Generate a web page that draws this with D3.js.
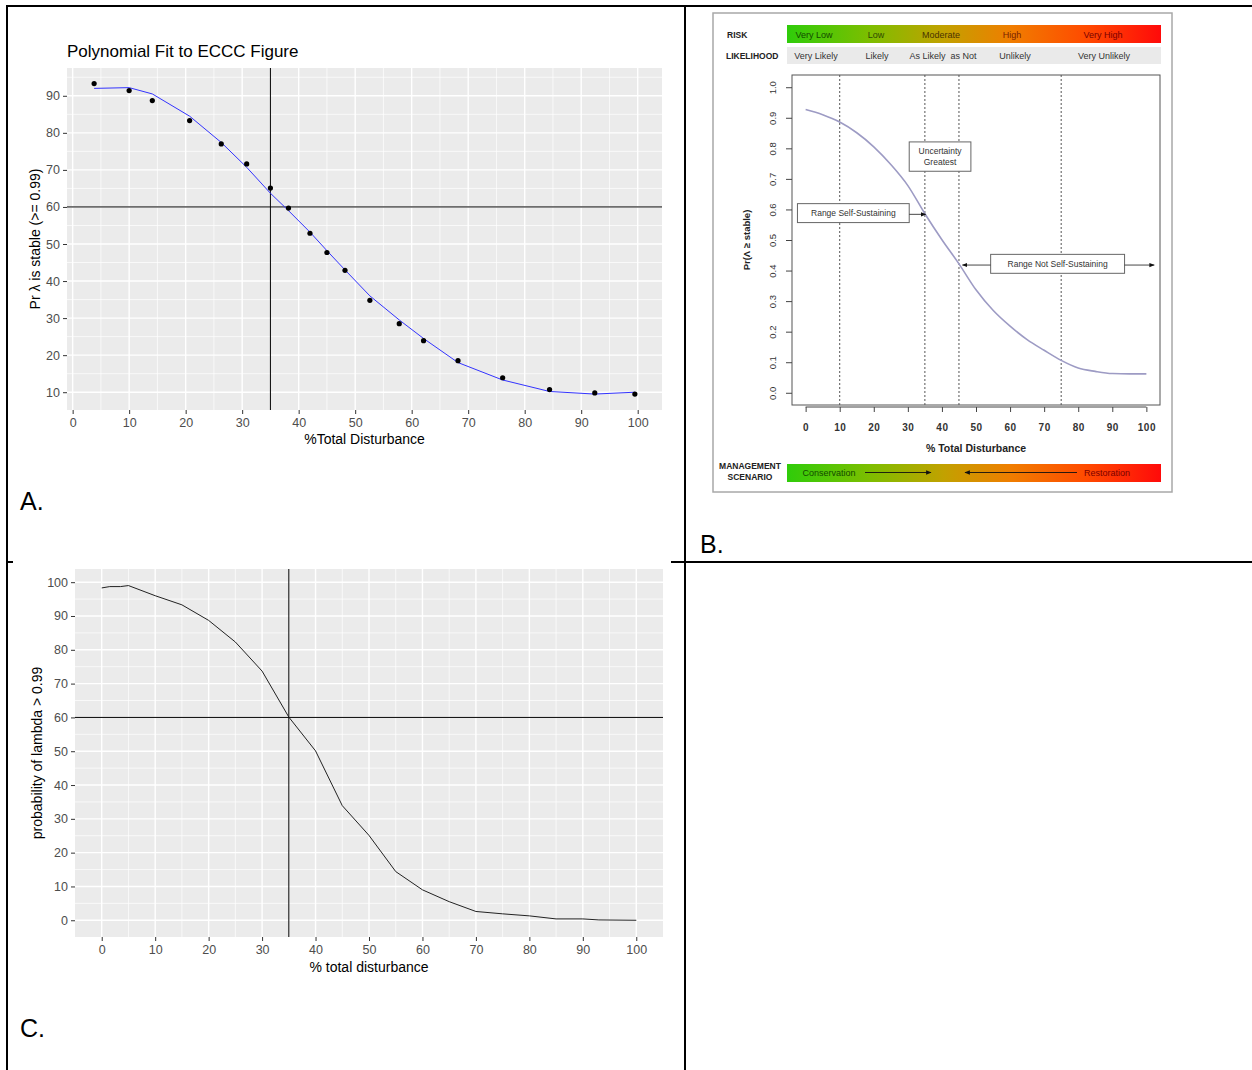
<!DOCTYPE html>
<html>
<head>
<meta charset="utf-8">
<script src="https://cdn.jsdelivr.net/npm/d3@7"></script>
<style>
body { margin: 0; background: #fff; }
text { font-family: "Liberation Sans", Arial, sans-serif; }
</style>
</head>
<body>
<div id="chart"></div>
<script>
// panel A: points, plus the polynomial fit at the same x
var aDist = [3.8, 10.0, 14.1, 20.7, 26.3, 30.8, 35.0, 38.2, 42.0, 45.0, 48.2, 52.6, 57.8, 62.1, 68.2, 76.1, 84.4, 92.4, 99.5];
var aProb = [93.3, 91.4, 88.7, 83.3, 77.0, 71.6, 65.1, 59.7, 52.9, 47.7, 42.9, 34.8, 28.5, 23.9, 18.5, 13.9, 10.7, 9.8, 9.5];
var aFit  = [92.0, 92.2, 90.5, 84.5, 77.4, 70.7, 63.7, 59.0, 53.2, 48.2, 43.0, 36.0, 29.5, 24.5, 18.0, 13.3, 10.2, 9.5, 10.0];

// panel B: the ECCC curve
var bDist = [0, 5, 10, 15, 20, 25, 30, 35, 40, 45, 50, 55, 60, 65, 70, 75, 80, 85, 90, 95, 100];
var bProb = [0.927, 0.910, 0.886, 0.851, 0.805, 0.747, 0.678, 0.586, 0.501, 0.422, 0.337, 0.270, 0.218, 0.174, 0.139, 0.106, 0.081, 0.070, 0.063, 0.062, 0.062];
var bThresholds = [10, 35, 45, 75];
var riskLabels = ["Very Low", "Low", "Moderate", "High", "Very High"];
var likelihoodLabels = ["Very Likely", "Likely", "As Likely  as Not", "Unlikely", "Very Unlikely"];

// panel C: simulated probability of lambda > 0.99
var cDist = [0, 1.5, 3.5, 5, 10, 15, 20, 25, 30, 35, 40, 45, 50, 55, 60, 65, 70, 75, 80, 85, 90, 93, 100];
var cProb = [98.3, 98.7, 98.7, 99.0, 96.0, 93.3, 88.7, 82.3, 73.7, 60.1, 50.1, 33.9, 25.1, 14.4, 9.0, 5.5, 2.6, 1.9, 1.3, 0.4, 0.4, 0.1, 0.0];

var svg = d3.select("#chart").append("svg")
    .attr("width", 1252)
    .attr("height", 1070);

// table lines
var border = svg.append("g").attr("stroke", "#000").attr("stroke-width", 2);
border.append("line").attr("x1", 7).attr("x2", 1252).attr("y1", 6).attr("y2", 6);
border.append("line").attr("x1", 7).attr("x2", 7).attr("y1", 5).attr("y2", 1070);
border.append("line").attr("x1", 685).attr("x2", 685).attr("y1", 5).attr("y2", 1070);
border.append("line").attr("x1", 7).attr("x2", 13).attr("y1", 562).attr("y2", 562);
border.append("line").attr("x1", 671).attr("x2", 1252).attr("y1", 562).attr("y2", 562);

// ggplot-like panel
function ggPanel(x, y, xMajor, yMajor, xMinor, yMinor) {
  var g = svg.append("g");
  var x0 = x.range()[0], x1 = x.range()[1], y0 = y.range()[0], y1 = y.range()[1];
  g.append("rect").attr("x", x0).attr("y", y1).attr("width", x1 - x0).attr("height", y0 - y1)
      .attr("fill", "#EBEBEB");
  g.selectAll(".xmin").data(xMinor).enter().append("line")
      .attr("x1", x).attr("x2", x).attr("y1", y0).attr("y2", y1)
      .attr("stroke", "#fff").attr("stroke-width", 0.7);
  g.selectAll(".ymin").data(yMinor).enter().append("line")
      .attr("y1", y).attr("y2", y).attr("x1", x0).attr("x2", x1)
      .attr("stroke", "#fff").attr("stroke-width", 0.7);
  g.selectAll(".xmaj").data(xMajor).enter().append("line")
      .attr("x1", x).attr("x2", x).attr("y1", y0).attr("y2", y1)
      .attr("stroke", "#fff").attr("stroke-width", 1.4);
  g.selectAll(".ymaj").data(yMajor).enter().append("line")
      .attr("y1", y).attr("y2", y).attr("x1", x0).attr("x2", x1)
      .attr("stroke", "#fff").attr("stroke-width", 1.4);

  var ax = g.append("g").attr("transform", "translate(0," + y0 + ")")
      .call(d3.axisBottom(x).tickValues(xMajor).tickSize(4).tickPadding(4));
  var ay = g.append("g").attr("transform", "translate(" + x0 + ",0)")
      .call(d3.axisLeft(y).tickValues(yMajor).tickSize(4).tickPadding(3));
  [ax, ay].forEach(function(a) {
    a.select(".domain").remove();
    a.selectAll(".tick line").attr("stroke", "#333").attr("stroke-width", 1);
    a.selectAll(".tick text").attr("fill", "#4D4D4D")
        .style("font-family", "'Liberation Sans', Arial, sans-serif").style("font-size", "12.5px");
  });
  return g;
}

// ---------------- panel A ----------------
var xA = d3.scaleLinear().domain([-1, 104.3]).range([67, 662]);
var yA = d3.scaleLinear().domain([5.2, 97.5]).range([410, 68]);
var gA = ggPanel(xA, yA, d3.range(0, 101, 10), d3.range(10, 91, 10),
                 d3.range(5, 101, 10), d3.range(15, 96, 10));

gA.append("line").attr("x1", xA(35)).attr("x2", xA(35)).attr("y1", 68).attr("y2", 410)
    .attr("stroke", "#000").attr("stroke-width", 1);
gA.append("line").attr("x1", 67).attr("x2", 662).attr("y1", yA(60)).attr("y2", yA(60))
    .attr("stroke", "#000").attr("stroke-width", 1);

gA.append("path")
    .datum(d3.range(aDist.length))
    .attr("fill", "none").attr("stroke", "#3333FF").attr("stroke-width", 1)
    .attr("d", d3.line().x(function(i) { return xA(aDist[i]); }).y(function(i) { return yA(aFit[i]); }));

gA.selectAll(".pt").data(d3.range(aDist.length)).enter().append("circle")
    .attr("cx", function(i) { return xA(aDist[i]); })
    .attr("cy", function(i) { return yA(aProb[i]); })
    .attr("r", 2.6).attr("fill", "#000");

svg.append("text").attr("x", 67).attr("y", 57).style("font-size", "17px").attr("fill", "#000")
    .text("Polynomial Fit to ECCC Figure");
svg.append("text").attr("x", (67 + 662) / 2).attr("y", 444).attr("text-anchor", "middle")
    .style("font-size", "14px").text("%Total Disturbance");
svg.append("text").attr("transform", "translate(40," + (68 + 410) / 2 + ") rotate(-90)")
    .attr("text-anchor", "middle").style("font-size", "14px").text("Pr \u03bb is stable (>= 0.99)");
svg.append("text").attr("x", 20).attr("y", 510).style("font-size", "25px").text("A.");

// ---------------- panel B ----------------
var xB = d3.scaleLinear().domain([-4, 104]).range([792, 1160]);
var yB = d3.scaleLinear().domain([-0.04, 1.04]).range([405, 75]);
var gB = svg.append("g");

gB.append("rect").attr("x", 713).attr("y", 13).attr("width", 459).attr("height", 479)
    .attr("fill", "#fff").attr("stroke", "#A8A8A8").attr("stroke-width", 1.5);

var defs = svg.append("defs");
var grad = defs.append("linearGradient").attr("id", "riskGrad");
[[0, "#2FCC0A"], [0.22, "#7DBE00"], [0.42, "#C2A100"], [0.6, "#F07D00"], [0.8, "#FF4A00"], [1, "#FF0A0A"]]
  .forEach(function(s) { grad.append("stop").attr("offset", s[0]).attr("stop-color", s[1]); });
defs.append("marker").attr("id", "arrow").attr("viewBox", "0 0 10 10").attr("refX", 9).attr("refY", 5)
    .attr("markerWidth", 6).attr("markerHeight", 6).attr("orient", "auto-start-reverse")
    .append("path").attr("d", "M0,1 L10,5 L0,9 z").attr("fill", "#111");

// risk and likelihood bars
gB.append("rect").attr("x", 787).attr("y", 25).attr("width", 374).attr("height", 18).attr("fill", "url(#riskGrad)");
gB.append("rect").attr("x", 787).attr("y", 47).attr("width", 374).attr("height", 17).attr("fill", "#EAEAEA");
gB.append("text").attr("x", 727).attr("y", 38).style("font-size", "8.5px").style("font-weight", "bold")
    .attr("fill", "#222").text("RISK");
gB.append("text").attr("x", 726).attr("y", 59).style("font-size", "8.5px").style("font-weight", "bold")
    .attr("fill", "#222").text("LIKELIHOOD");

var labelCentres = [814, 876, 941, 1012, 1103];
var riskColours = ["#124A00", "#2E4A00", "#4A3400", "#7A2200", "#7A0000"];
gB.selectAll(".risk").data(riskLabels).enter().append("text")
    .attr("x", function(d, i) { return labelCentres[i]; }).attr("y", 38)
    .attr("text-anchor", "middle").style("font-size", "9px")
    .attr("fill", function(d, i) { return riskColours[i]; }).text(function(d) { return d; });
var likeCentres = [816, 877, 943, 1015, 1104];
gB.selectAll(".like").data(likelihoodLabels).enter().append("text")
    .attr("x", function(d, i) { return likeCentres[i]; }).attr("y", 59)
    .attr("text-anchor", "middle").style("font-size", "9px").style("white-space", "pre")
    .attr("fill", "#333").text(function(d) { return d; });

// plot box
gB.append("rect").attr("x", 792).attr("y", 75).attr("width", 368).attr("height", 330)
    .attr("fill", "none").attr("stroke", "#555").attr("stroke-width", 1);

gB.selectAll(".thr").data(bThresholds).enter().append("line")
    .attr("x1", xB).attr("x2", xB).attr("y1", 75).attr("y2", 405)
    .attr("stroke", "#555").attr("stroke-width", 1).attr("stroke-dasharray", "2,2");

var axB = gB.append("g").attr("transform", "translate(0,407)")
    .call(d3.axisBottom(xB).tickValues(d3.range(0, 101, 10)).tickSize(5).tickPadding(12));
axB.select(".domain").attr("stroke", "#444").attr("d", "M" + xB(0) + ",0H" + xB(100));
axB.selectAll(".tick line").attr("stroke", "#444");
axB.selectAll(".tick text").style("font-size", "10px").style("font-weight", "bold")
    .style("letter-spacing", "0.5px")
    .style("font-family", "'Liberation Sans', Arial, sans-serif").attr("fill", "#333");

var ayB = gB.append("g").attr("transform", "translate(792,0)")
    .call(d3.axisLeft(yB).tickValues(d3.range(0, 1.01, 0.1)).tickSize(6).tickFormat(d3.format(".1f")));
ayB.select(".domain").remove();
ayB.selectAll(".tick line").attr("stroke", "#444");
ayB.selectAll(".tick text").attr("x", null).attr("dy", null)
    .attr("transform", "translate(-19,0) rotate(-90)").attr("text-anchor", "middle")
    .attr("y", 3)
    .style("font-size", "9.5px").style("font-family", "'Liberation Sans', Arial, sans-serif").attr("fill", "#333");

gB.append("path")
    .datum(d3.range(bDist.length))
    .attr("fill", "none").attr("stroke", "#9D9BC4").attr("stroke-width", 1.6)
    .attr("d", d3.line().curve(d3.curveMonotoneX)
      .x(function(i) { return xB(bDist[i]); }).y(function(i) { return yB(bProb[i]); }));

gB.append("text").attr("x", (xB(0) + xB(100)) / 2).attr("y", 452).attr("text-anchor", "middle")
    .style("font-size", "10.5px").style("font-weight", "bold").attr("fill", "#222").text("% Total Disturbance");
gB.append("text").attr("transform", "translate(750," + yB(0.5) + ") rotate(-90)")
    .attr("text-anchor", "middle").style("font-size", "9.5px").style("font-weight", "bold")
    .attr("fill", "#222").text("Pr(\u039b \u2265 stable)");

// annotation boxes (in data units)
function noteBox(xa, xb, ya, yb, lines) {
  gB.append("rect").attr("x", xB(xa)).attr("y", yB(ya)).attr("width", xB(xb) - xB(xa))
      .attr("height", yB(yb) - yB(ya)).attr("fill", "#fff").attr("stroke", "#666").attr("stroke-width", 1);
  var cy = (yB(ya) + yB(yb)) / 2 - (lines.length - 1) * 5.5;
  lines.forEach(function(t, i) {
    gB.append("text").attr("x", (xB(xa) + xB(xb)) / 2).attr("y", cy + i * 11 + 3)
        .attr("text-anchor", "middle").style("font-size", "8.5px").attr("fill", "#333").text(t);
  });
}
function arrow(xa, xb, yv) {
  gB.append("line").attr("x1", xB(xa)).attr("x2", xB(xb)).attr("y1", yB(yv)).attr("y2", yB(yv))
      .attr("stroke", "#333").attr("stroke-width", 0.9).attr("marker-end", "url(#arrow)");
}
noteBox(30.4, 48.5, 0.821, 0.725, ["Uncertainty", "Greatest"]);
noteBox(-2.4, 30.4, 0.619, 0.557, ["Range Self-Sustaining"]);
arrow(30.4, 35.2, 0.584);
noteBox(54.3, 93.6, 0.453, 0.391, ["Range Not Self-Sustaining"]);
arrow(54.3, 46.0, 0.418);
arrow(93.6, 102.3, 0.418);

// management scenario bar
gB.append("rect").attr("x", 787).attr("y", 464).attr("width", 374).attr("height", 18).attr("fill", "url(#riskGrad)");
gB.append("text").attr("x", 750).attr("y", 469).attr("text-anchor", "middle").style("font-size", "8.5px")
    .style("font-weight", "bold").attr("fill", "#222").text("MANAGEMENT");
gB.append("text").attr("x", 750).attr("y", 480).attr("text-anchor", "middle").style("font-size", "8.5px")
    .style("font-weight", "bold").attr("fill", "#222").text("SCENARIO");
gB.append("text").attr("x", 829).attr("y", 476).attr("text-anchor", "middle").style("font-size", "9px")
    .attr("fill", "#124A00").text("Conservation");
gB.append("text").attr("x", 1107).attr("y", 476).attr("text-anchor", "middle").style("font-size", "9px")
    .attr("fill", "#7A0000").text("Restoration");
gB.append("line").attr("x1", 865).attr("x2", 931).attr("y1", 472.5).attr("y2", 472.5)
    .attr("stroke", "#111").attr("stroke-width", 0.9).attr("marker-end", "url(#arrow)");
gB.append("line").attr("x1", 1077).attr("x2", 965).attr("y1", 472.5).attr("y2", 472.5)
    .attr("stroke", "#111").attr("stroke-width", 0.9).attr("marker-end", "url(#arrow)");

svg.append("text").attr("x", 700).attr("y", 553).style("font-size", "25px").text("B.");

// ---------------- panel C ----------------
var xC = d3.scaleLinear().domain([-5, 105]).range([75, 663]);
var yC = d3.scaleLinear().domain([-4.95, 103.9]).range([937, 569]);
var gC = ggPanel(xC, yC, d3.range(0, 101, 10), d3.range(0, 101, 10),
                 d3.range(5, 101, 10), d3.range(5, 101, 10));

gC.append("line").attr("x1", xC(35)).attr("x2", xC(35)).attr("y1", 569).attr("y2", 937)
    .attr("stroke", "#000").attr("stroke-width", 1);
gC.append("line").attr("x1", 75).attr("x2", 663).attr("y1", yC(60)).attr("y2", yC(60))
    .attr("stroke", "#000").attr("stroke-width", 1);

gC.append("path")
    .datum(d3.range(cDist.length))
    .attr("fill", "none").attr("stroke", "#222").attr("stroke-width", 1)
    .attr("d", d3.line().x(function(i) { return xC(cDist[i]); }).y(function(i) { return yC(cProb[i]); }));

svg.append("text").attr("x", (75 + 663) / 2).attr("y", 972).attr("text-anchor", "middle")
    .style("font-size", "14px").text("% total disturbance");
svg.append("text").attr("transform", "translate(42," + (569 + 937) / 2 + ") rotate(-90)")
    .attr("text-anchor", "middle").style("font-size", "14px").text("probability of lambda > 0.99");
svg.append("text").attr("x", 20).attr("y", 1037).style("font-size", "25px").text("C.");
</script>
</body>
</html>
